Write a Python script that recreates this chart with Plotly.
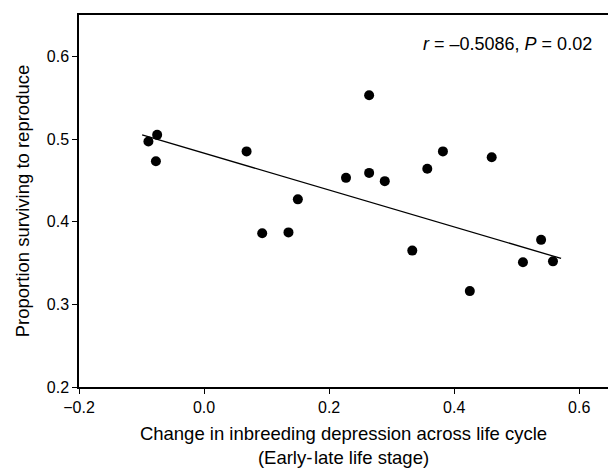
import plotly.graph_objects as go

# Data
change_id = [-0.089, -0.075, -0.077, 0.068, 0.150, 0.093, 0.135, 0.227, 0.264, 0.264,
             0.289, 0.357, 0.382, 0.460, 0.333, 0.425, 0.539, 0.510, 0.558]
prop_surv = [0.497, 0.505, 0.473, 0.485, 0.427, 0.386, 0.387, 0.453, 0.553, 0.459,
             0.449, 0.464, 0.485, 0.478, 0.365, 0.316, 0.378, 0.351, 0.352]

fit_x = [-0.099, 0.571]
fit_y = [0.505, 0.3555]

x_ticks = [-0.2, 0.0, 0.2, 0.4, 0.6]
x_ticklabels = ["\u22120.2", "0.0", "0.2", "0.4", "0.6"]
y_ticks = [0.2, 0.3, 0.4, 0.5, 0.6]
y_ticklabels = ["0.2", "0.3", "0.4", "0.5", "0.6"]

FONT = "Liberation Sans, Arial, sans-serif"

fig = go.Figure()
fig.add_trace(go.Scatter(
    x=fit_x, y=fit_y, mode="lines",
    line=dict(color="black", width=1.3),
    showlegend=False, hoverinfo="skip",
))
fig.add_trace(go.Scatter(
    x=change_id, y=prop_surv, mode="markers",
    marker=dict(color="black", size=10, line=dict(width=0)),
    showlegend=False,
))

fig.add_annotation(
    x=0.6235, y=0.6153, xref="x", yref="y",
    text="<i>r</i> = \u20130.5086, <i>P</i> = 0.02",
    showarrow=False, xanchor="right", yanchor="middle",
    font=dict(family=FONT, size=18, color="black"),
)

fig.update_layout(
    width=608, height=468,
    margin=dict(l=79, r=0, t=15, b=81, pad=0),
    paper_bgcolor="white", plot_bgcolor="white",
    font=dict(family=FONT, size=16, color="black"),
    xaxis=dict(
        range=[-0.2, 0.646],
        tickvals=x_ticks, ticktext=x_ticklabels,
        showgrid=False, zeroline=False,
        showline=True, linecolor="black", linewidth=1.5, mirror=True,
        ticks="outside", ticklen=5, tickwidth=1.3, tickcolor="black",
        tickfont=dict(family=FONT, size=16, color="black"),
        title=dict(
            text="Change in inbreeding depression across life cycle<br>(Early-\u200alate life stage)",
            font=dict(family=FONT, size=18.5, color="black"),
            standoff=12,
        ),
    ),
    yaxis=dict(
        range=[0.2, 0.65],
        tickvals=y_ticks, ticktext=y_ticklabels,
        showgrid=False, zeroline=False,
        showline=True, linecolor="black", linewidth=1.5, mirror=False,
        ticks="outside", ticklen=5, tickwidth=1.3, tickcolor="black",
        tickfont=dict(family=FONT, size=16, color="black"),
        title=dict(
            text="Proportion surviving to reproduce",
            font=dict(family=FONT, size=18.5, color="black"),
            standoff=12,
        ),
    ),
)

fig.write_html("out.html")
